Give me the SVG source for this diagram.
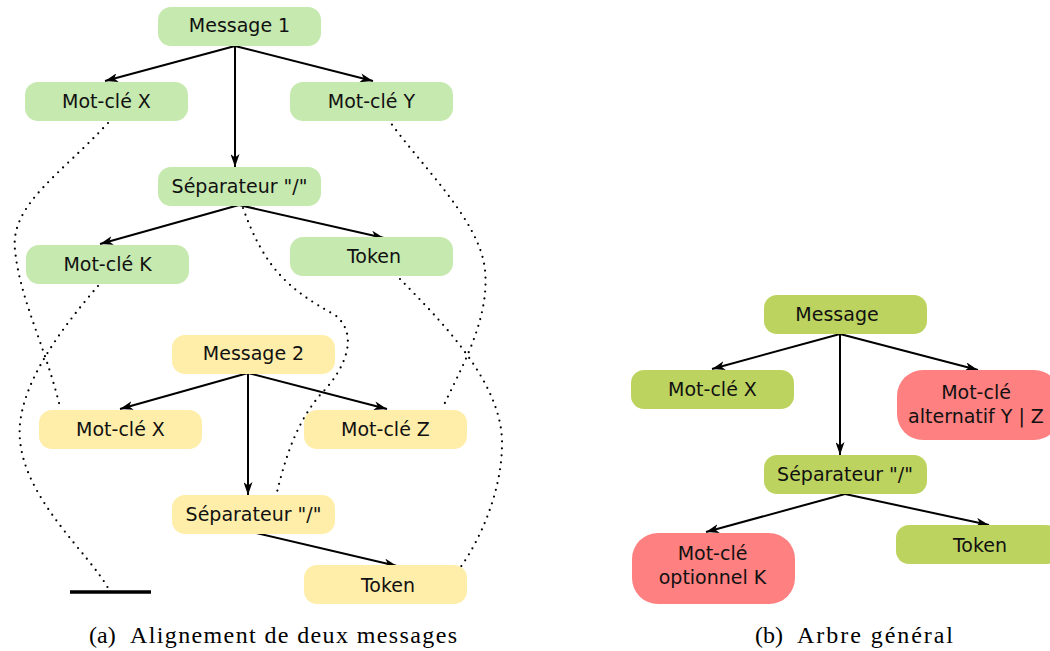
<svg xmlns="http://www.w3.org/2000/svg" width="1050" height="651" viewBox="0 0 1050 651">
<defs>
<style>
.n text{font-family:"DejaVu Sans",sans-serif;font-size:19px;fill:#111;text-anchor:middle}
.g1{fill:#c6e9af}
.y1{fill:#ffeeaa}
.g2{fill:#bcd35f}
.r1{fill:#ff8080}
.e{stroke:#000;stroke-width:2;fill:none;marker-end:url(#arr)}
.d{stroke:#000;stroke-width:2.2;fill:none;stroke-dasharray:0 7;stroke-linecap:round}
.cap{font-family:"Liberation Serif",serif;font-size:24px;fill:#000}
</style>
<marker id="arr" viewBox="0 0 13 9" refX="13" refY="4.5" markerWidth="13" markerHeight="9" orient="auto" markerUnits="userSpaceOnUse">
<path d="M0,0 L13,4.5 L0,9 L3.5,4.5 z" fill="#000"/>
</marker>
</defs>
<rect width="1050" height="651" fill="#fff"/>

<g id="alignments">
<path class="d" d="M108,123 C60,175 10,205 15,250 C20,300 45,345 60,407"/>
<path class="d" d="M98,286 C60,330 15,390 20,440 C25,500 90,555 108,588"/>
<path class="d" d="M243,208 C265,270 290,290 335,315 C360,335 345,370 320,395 C295,425 285,460 277,492"/>
<path class="d" d="M388,119 C420,165 480,220 485,270 C490,320 460,370 443,407"/>
<path class="d" d="M400,279 C440,320 500,380 502,440 C503,490 480,540 460,568"/>
<line x1="70" y1="592" x2="151" y2="592" stroke="#000" stroke-width="3.5"/>
</g>

<g id="connectors">
<path class="e" d="M235,46 L105,81"/>
<path class="e" d="M235,46 L373,81"/>
<path class="e" d="M235,46 L235,167"/>
<path class="e" d="M239,205 L100,244"/>
<path class="e" d="M239,205 L384,238"/>
<path class="e" d="M248,373 L120,409"/>
<path class="e" d="M248,373 L387,409"/>
<path class="e" d="M248,373 L248,495"/>
<path class="e" d="M252,532 L397,566"/>
<path class="e" d="M840,334 L712,369"/>
<path class="e" d="M840,334 L978,370"/>
<path class="e" d="M840,334 L840,455"/>
<path class="e" d="M845,494 L706,532"/>
<path class="e" d="M845,494 L989,525"/>
</g>

<g id="m1" class="n"><rect class="g1" x="158" y="7" width="163" height="39" rx="13"/><text x="239.5" y="32">Message 1</text></g>
<g id="m1x" class="n"><rect class="g1" x="25" y="82" width="163" height="39" rx="13"/><text x="106.5" y="108">Mot-clé X</text></g>
<g id="m1y" class="n"><rect class="g1" x="290" y="82" width="163" height="39" rx="13"/><text x="371.5" y="108">Mot-clé Y</text></g>
<g id="m1s" class="n"><rect class="g1" x="158" y="167" width="163" height="39" rx="13"/><text x="239.5" y="193">Séparateur "/"</text></g>
<g id="m1k" class="n"><rect class="g1" x="26" y="245" width="163" height="39" rx="13"/><text x="107.5" y="271">Mot-clé K</text></g>
<g id="m1t" class="n"><rect class="g1" x="290" y="237" width="163" height="39" rx="13"/><text x="374" y="263">Token</text></g>

<g id="m2" class="n"><rect class="y1" x="172" y="335" width="163" height="39" rx="13"/><text x="253.5" y="360">Message 2</text></g>
<g id="m2x" class="n"><rect class="y1" x="39" y="410" width="163" height="39" rx="13"/><text x="120.5" y="436">Mot-clé X</text></g>
<g id="m2z" class="n"><rect class="y1" x="304" y="410" width="163" height="39" rx="13"/><text x="385.5" y="436">Mot-clé Z</text></g>
<g id="m2s" class="n"><rect class="y1" x="172" y="495" width="163" height="39" rx="13"/><text x="253.5" y="521">Séparateur "/"</text></g>
<g id="m2t" class="n"><rect class="y1" x="304" y="565" width="163" height="39" rx="13"/><text x="388" y="592">Token</text></g>

<g id="gm" class="n"><rect class="g2" x="764" y="295" width="163" height="39" rx="13"/><text x="837" y="321">Message</text></g>
<g id="gx" class="n"><rect class="g2" x="631" y="370" width="163" height="39" rx="13"/><text x="712.5" y="396">Mot-clé X</text></g>
<g id="gyz" class="n"><rect class="r1" x="897" y="370" width="163" height="70" rx="26"/><text x="976" y="399">Mot-clé</text><text x="976" y="423">alternatif Y | Z</text></g>
<g id="gs" class="n"><rect class="g2" x="764" y="455" width="163" height="39" rx="13"/><text x="845" y="481">Séparateur "/"</text></g>
<g id="gk" class="n"><rect class="r1" x="632" y="533" width="163" height="71" rx="26"/><text x="712.5" y="560">Mot-clé</text><text x="712.5" y="584">optionnel K</text></g>
<g id="gt" class="n"><rect class="g2" x="896" y="525" width="163" height="39" rx="13"/><text x="980" y="552">Token</text></g>

<g id="captions">
<text class="cap" x="89" y="643">(a)<tspan x="130" textLength="327" lengthAdjust="spacing">Alignement de deux messages</tspan></text>
<text class="cap" x="755" y="643">(b)<tspan x="797" textLength="156" lengthAdjust="spacing">Arbre général</tspan></text>
</g>
</svg>
